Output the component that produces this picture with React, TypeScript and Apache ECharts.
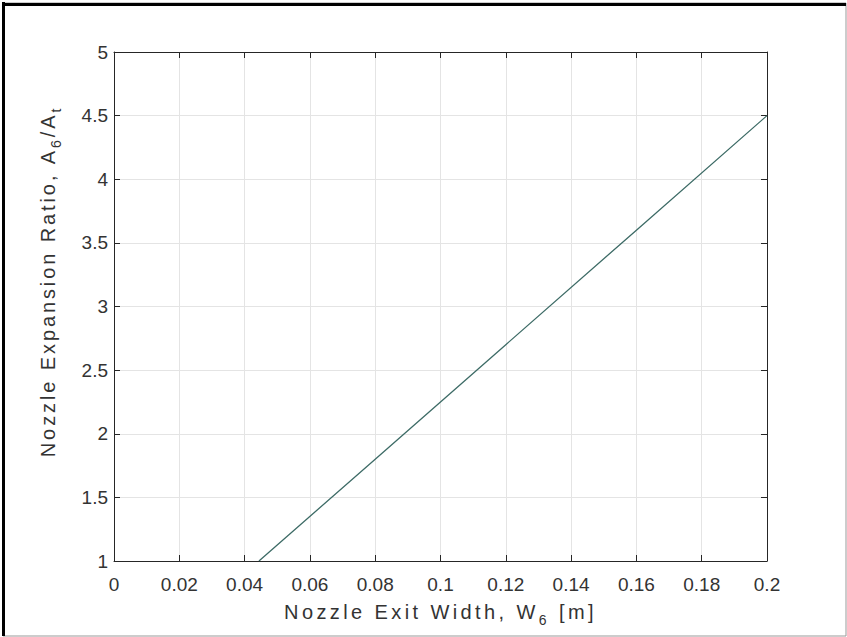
import React, { useEffect, useRef } from "react";
import * as echarts from "echarts";

const exitWidth = [0.0444, 0.08, 0.12, 0.16, 0.2];
const expansionRatio = [1, 1.8, 2.7, 3.6, 4.5];
const xTicks = [0, 0.02, 0.04, 0.06, 0.08, 0.1, 0.12, 0.14, 0.16, 0.18, 0.2];
const yTicks = [1, 1.5, 2, 2.5, 3, 3.5, 4, 4.5, 5];
const xTitleParts: [string, string][] = [["Nozzle Exit Width, W", "c"], ["6", "sub"], [" [m]", "c"]];
const yTitleParts: [string, string][] = [["Nozzle Expansion Ratio, A", "c"], ["6", "sub"], ["/A", "c"], ["t", "sub"]];

function spaced(parts: [string, string][]): string {
  return parts
    .map(([t, s]) => (s === "sub" ? `{sub|${t}}` : t.split("").map((ch) => `{c|${ch}}`).join("")))
    .join("");
}

export default function App() {
  const ref = useRef<HTMLDivElement>(null);
  useEffect(() => {
    const chart = echarts.init(ref.current!, null, { renderer: "svg" });
    const font = "Liberation Sans, Arial, sans-serif";
    const gridLine = { show: true, lineStyle: { color: "#e4e4e4", width: 1 } };
    const tick = { show: true, inside: true, length: 6, lineStyle: { color: "#262626" } };
    const axisLine = { show: true, onZero: false, lineStyle: { color: "#262626", width: 1 } };
    const xRich = {
      c: { fontSize: 20, color: "#333", fontFamily: font, padding: [0, 3.4, 0, 0] },
      sub: { fontSize: 14, color: "#333", fontFamily: font, padding: [16, 3.4, 0, 0] },
    };
    const yRich = {
      c: { fontSize: 20, color: "#333", fontFamily: font, padding: [0, 2.9, 0, 0] },
      sub: { fontSize: 14, color: "#333", fontFamily: font, padding: [16, 2.9, 0, 0] },
    };
    const fmt = (v: number) => String(+v.toFixed(2));
    chart.setOption({
      animation: false,
      backgroundColor: "#ffffff",
      grid: { left: 114, right: 80, top: 52, bottom: 76, containLabel: false },
      xAxis: [
        {
          type: "value", min: xTicks[0], max: xTicks[xTicks.length - 1], interval: 0.02, position: "bottom",
          axisLine, axisTick: tick, splitLine: gridLine,
          axisLabel: { color: "#333", fontSize: 19, fontFamily: font, margin: 14, formatter: fmt },
          name: spaced(xTitleParts),
          nameLocation: "middle", nameGap: 36,
          nameTextStyle: { rich: xRich },
        },
        {
          type: "value", min: xTicks[0], max: xTicks[xTicks.length - 1], interval: 0.02, position: "top",
          axisLine, axisTick: tick, splitLine: { show: false }, axisLabel: { show: false },
        },
      ],
      yAxis: [
        {
          type: "value", min: yTicks[0], max: yTicks[yTicks.length - 1], interval: 0.5, position: "left",
          axisLine, axisTick: tick, splitLine: gridLine,
          axisLabel: { color: "#333", fontSize: 19, fontFamily: font, margin: 6, formatter: fmt },
          name: spaced(yTitleParts),
          nameLocation: "middle", nameGap: 51,
          nameTextStyle: { rich: yRich, padding: [0, 0, 0, 50] },
        },
        {
          type: "value", min: yTicks[0], max: yTicks[yTicks.length - 1], interval: 0.5, position: "right",
          axisLine, axisTick: tick, splitLine: { show: false }, axisLabel: { show: false },
        },
      ],
      graphic: [
        { type: "rect", shape: { x: 3, y: 3, width: 843, height: 633 }, style: { fill: "none", stroke: "#999", lineWidth: 1 }, silent: true },
        { type: "line", shape: { x1: 3.5, y1: 2, x2: 3.5, y2: 636 }, style: { stroke: "#000", lineWidth: 3 }, silent: true },
        { type: "line", shape: { x1: 2, y1: 4.5, x2: 846, y2: 4.5 }, style: { stroke: "#000", lineWidth: 3 }, silent: true },
      ],
      series: [
        {
          type: "line",
          data: exitWidth.map((x, i) => [x, expansionRatio[i]]),
          showSymbol: false,
          lineStyle: { color: "#3d6b66", width: 1.3 },
        },
      ],
    });
    return () => chart.dispose();
  }, []);
  return <div ref={ref} style={{ position: "fixed", left: 0, top: 0, width: 847, height: 637 }} />;
}
